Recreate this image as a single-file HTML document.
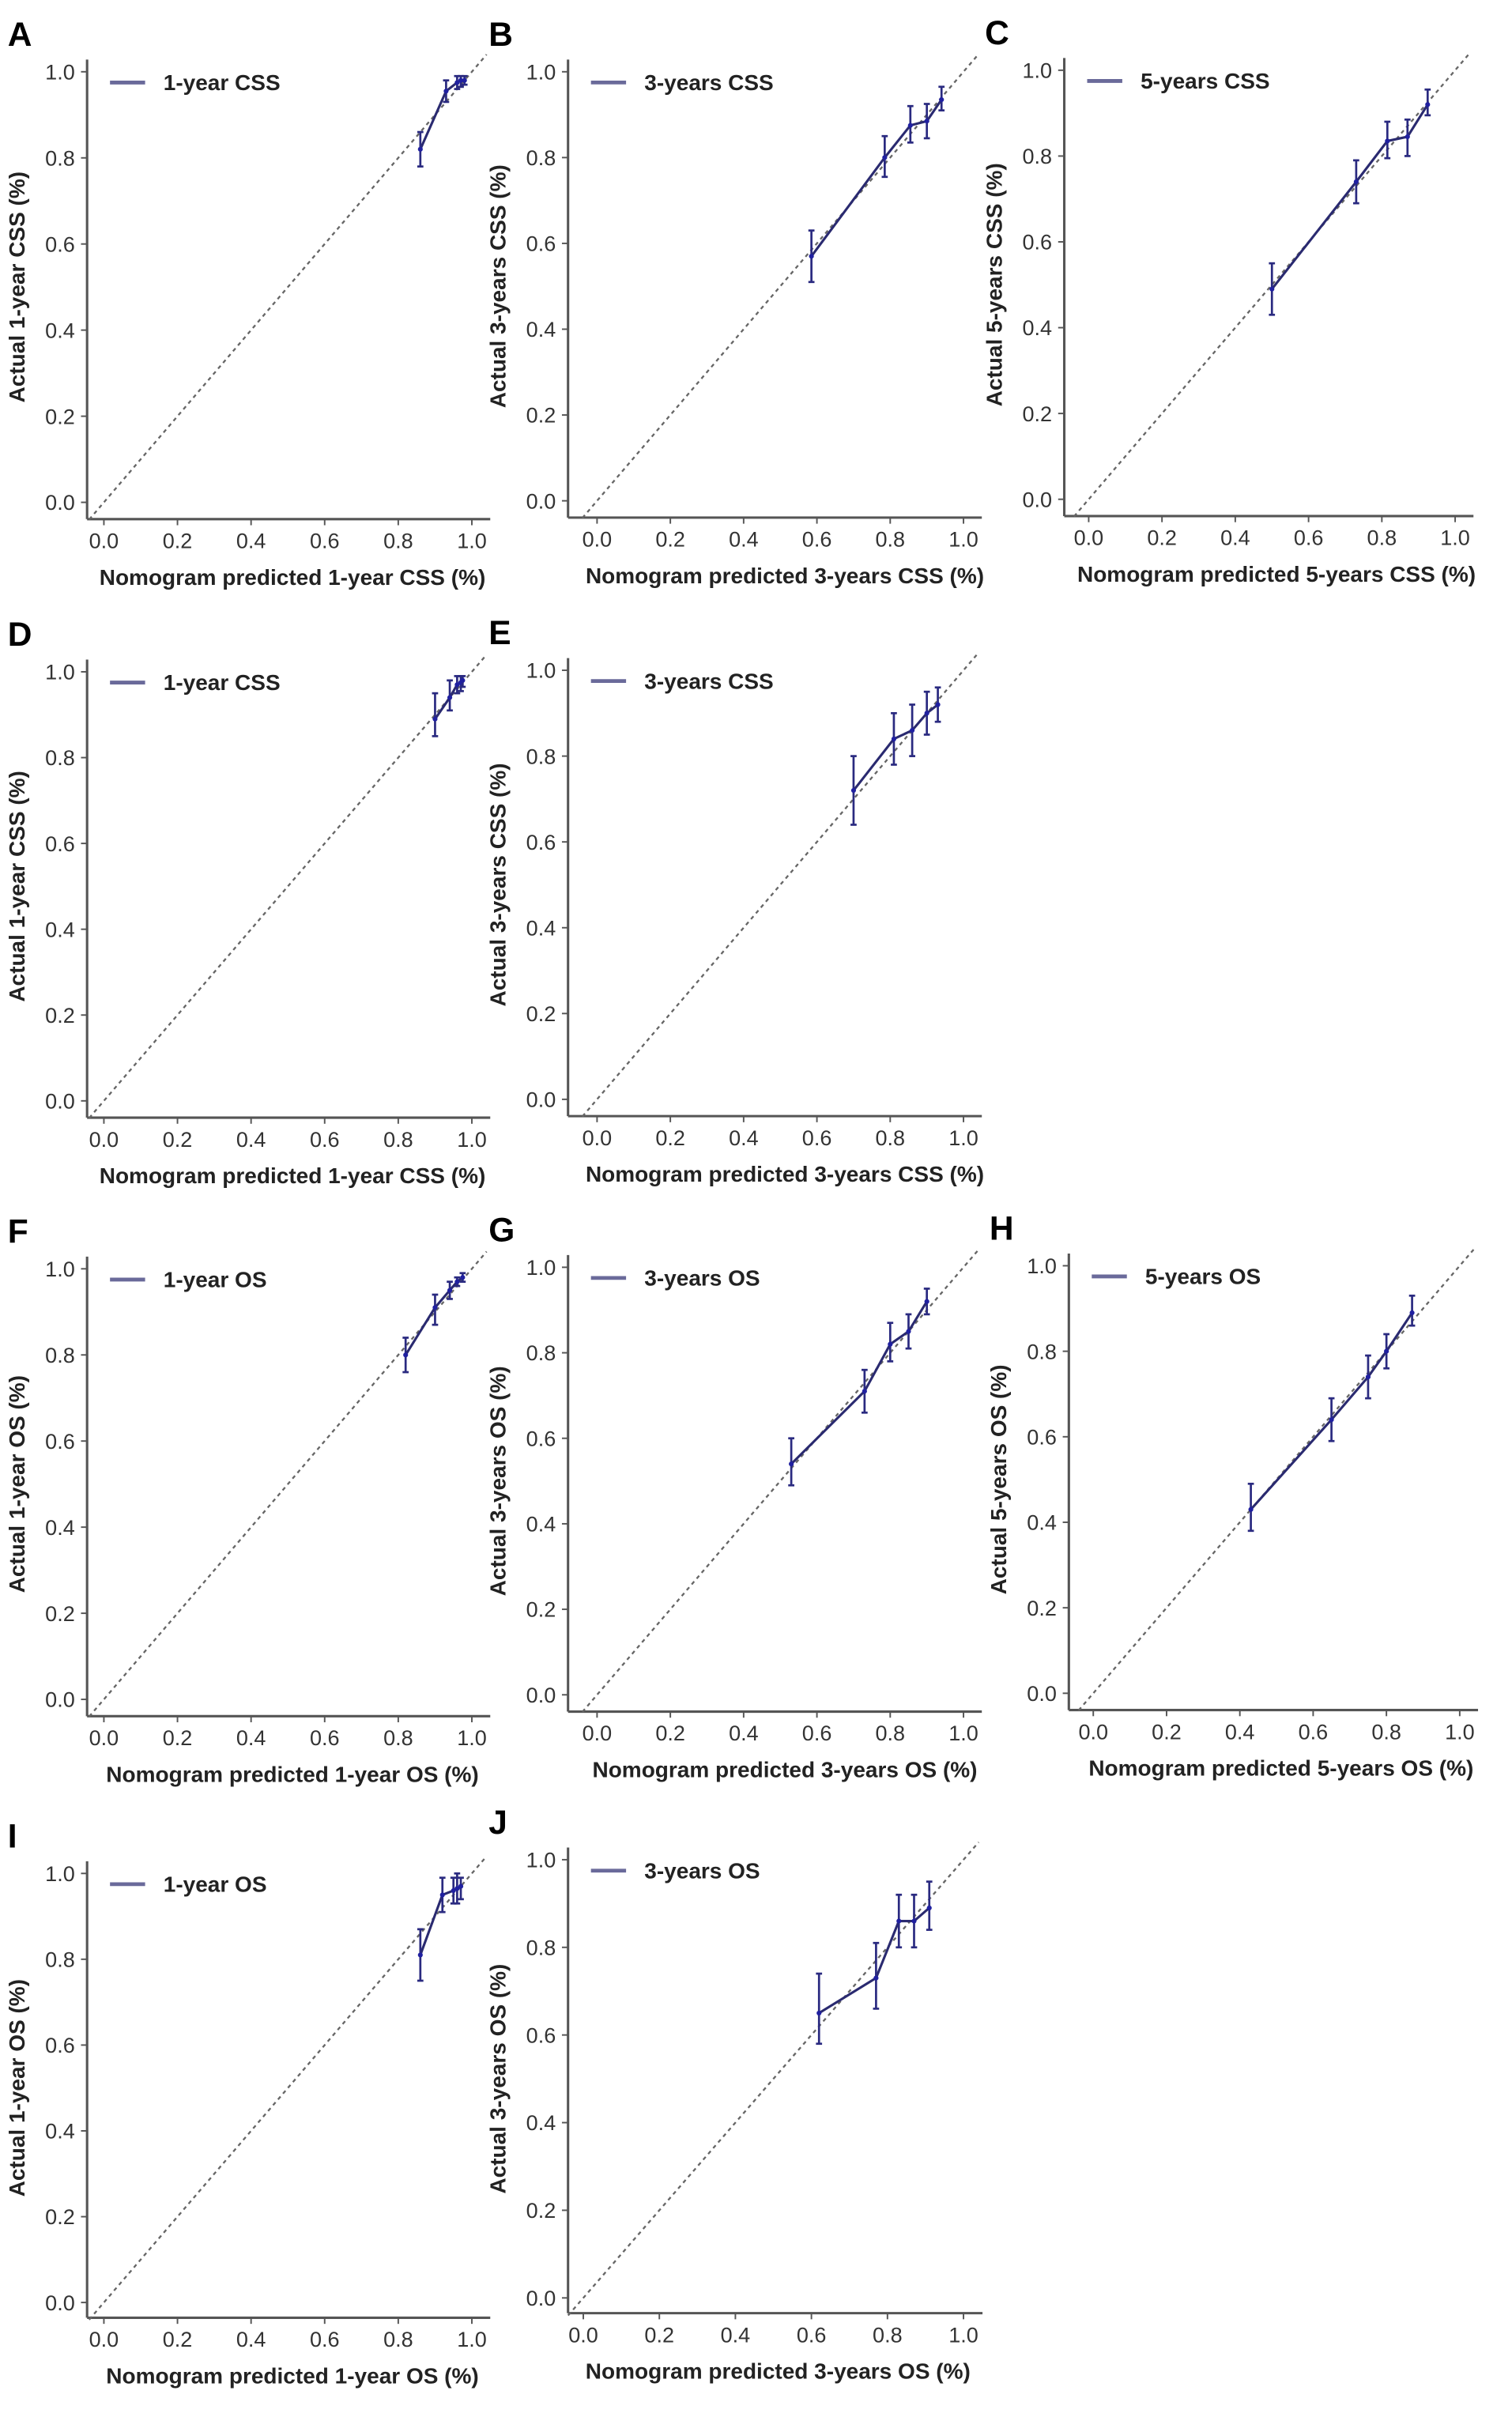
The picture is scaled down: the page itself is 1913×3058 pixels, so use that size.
<!DOCTYPE html>
<html><head><meta charset="utf-8"><style>
html,body{margin:0;padding:0;background:#fff}
svg{display:block}
text{font-family:"Liberation Sans",Arial,sans-serif}
</style></head><body>
<svg id="fig" width="1913" height="3058" viewBox="0 0 990.2 1583" xmlns="http://www.w3.org/2000/svg"></svg>
<script>
// Panel data: predicted, observed, lower CI, upper CI
const predA=[0.86,0.93,0.96,0.97,0.98], obsA=[0.82,0.955,0.975,0.98,0.98], loA=[0.78,0.93,0.96,0.965,0.97], hiA=[0.86,0.98,0.99,0.99,0.99];
const predB=[0.585,0.785,0.855,0.90,0.94], obsB=[0.57,0.80,0.875,0.885,0.935], loB=[0.51,0.755,0.835,0.845,0.91], hiB=[0.63,0.85,0.92,0.925,0.965];
const predC=[0.50,0.73,0.815,0.87,0.925], obsC=[0.49,0.74,0.835,0.845,0.92], loC=[0.43,0.69,0.795,0.80,0.895], hiC=[0.55,0.79,0.88,0.885,0.955];
const predD=[0.90,0.94,0.96,0.97,0.975], obsD=[0.89,0.94,0.97,0.975,0.98], loD=[0.85,0.91,0.95,0.955,0.965], hiD=[0.95,0.98,0.99,0.99,0.99];
const predE=[0.70,0.81,0.86,0.90,0.93], obsE=[0.72,0.84,0.86,0.90,0.92], loE=[0.64,0.78,0.80,0.85,0.88], hiE=[0.80,0.90,0.92,0.95,0.96];
const predF=[0.82,0.90,0.94,0.96,0.975], obsF=[0.80,0.91,0.95,0.97,0.98], loF=[0.76,0.87,0.93,0.96,0.97], hiF=[0.84,0.94,0.97,0.98,0.99];
const predG=[0.53,0.73,0.80,0.85,0.90], obsG=[0.54,0.71,0.82,0.85,0.92], loG=[0.49,0.66,0.78,0.81,0.89], hiG=[0.60,0.76,0.87,0.89,0.95];
const predH=[0.43,0.65,0.75,0.80,0.87], obsH=[0.43,0.64,0.74,0.80,0.89], loH=[0.38,0.59,0.69,0.76,0.86], hiH=[0.49,0.69,0.79,0.84,0.93];
const predI=[0.86,0.92,0.95,0.96,0.97], obsI=[0.81,0.95,0.96,0.965,0.97], loI=[0.75,0.91,0.93,0.93,0.94], hiI=[0.87,0.99,0.99,1.0,0.99];
const predJ=[0.62,0.77,0.83,0.87,0.91], obsJ=[0.65,0.73,0.86,0.86,0.89], loJ=[0.58,0.66,0.80,0.80,0.84], hiJ=[0.74,0.81,0.92,0.92,0.95];
const tickVals=[0,0.2,0.4,0.6,0.8,1.0];
const tickLabels=["0.0","0.2","0.4","0.6","0.8","1.0"];

const panels=[
 {L:"A",ax:57,x0:68,x1:309,y1:47,y0:329,ay:340,leg:"1-year CSS",xt:"Nomogram predicted 1-year CSS (%)",yt:"Actual 1-year CSS (%)",p:predA,o:obsA,lo:loA,hi:hiA},
 {L:"B",ax:372,x0:391,x1:631,y1:47,y0:328,ay:339,leg:"3-years CSS",xt:"Nomogram predicted 3-years CSS (%)",yt:"Actual 3-years CSS (%)",p:predB,o:obsB,lo:loB,hi:hiB},
 {L:"C",ax:697,x0:713,x1:953,y1:46,y0:327,ay:338,leg:"5-years CSS",xt:"Nomogram predicted 5-years CSS (%)",yt:"Actual 5-years CSS (%)",p:predC,o:obsC,lo:loC,hi:hiC},
 {L:"D",ax:57,x0:68,x1:309,y1:440,y0:721,ay:732,leg:"1-year CSS",xt:"Nomogram predicted 1-year CSS (%)",yt:"Actual 1-year CSS (%)",p:predD,o:obsD,lo:loD,hi:hiD},
 {L:"E",ax:372,x0:391,x1:631,y1:439,y0:720,ay:731,leg:"3-years CSS",xt:"Nomogram predicted 3-years CSS (%)",yt:"Actual 3-years CSS (%)",p:predE,o:obsE,lo:loE,hi:hiE},
 {L:"F",ax:57,x0:68,x1:309,y1:831,y0:1113,ay:1124,leg:"1-year OS",xt:"Nomogram predicted 1-year OS (%)",yt:"Actual 1-year OS (%)",p:predF,o:obsF,lo:loF,hi:hiF},
 {L:"G",ax:372,x0:391,x1:631,y1:830,y0:1110,ay:1121,leg:"3-years OS",xt:"Nomogram predicted 3-years OS (%)",yt:"Actual 3-years OS (%)",p:predG,o:obsG,lo:loG,hi:hiG},
 {L:"H",ax:700,x0:716,x1:956,y1:829,y0:1109,ay:1120,leg:"5-years OS",xt:"Nomogram predicted 5-years OS (%)",yt:"Actual 5-years OS (%)",p:predH,o:obsH,lo:loH,hi:hiH},
 {L:"I",ax:57,x0:68,x1:309,y1:1227,y0:1508,ay:1518,leg:"1-year OS",xt:"Nomogram predicted 1-year OS (%)",yt:"Actual 1-year OS (%)",p:predI,o:obsI,lo:loI,hi:hiI},
 {L:"J",ax:372,x0:382,x1:631,y1:1218,y0:1505,ay:1515,leg:"3-years OS",xt:"Nomogram predicted 3-years OS (%)",yt:"Actual 3-years OS (%)",p:predJ,o:obsJ,lo:loJ,hi:hiJ}
];
const NS="http://www.w3.org/2000/svg";
const svg=document.getElementById('fig');
function mk(parent,tag,attrs,txt){const e=document.createElementNS(NS,tag);for(const k in attrs)e.setAttribute(k,attrs[k]);if(txt!==undefined)e.textContent=txt;parent.appendChild(e);return e;}
panels.forEach(P=>{
 const g=mk(svg,'g',{});
 
 
 const sx=v=>P.x0+(P.x1-P.x0)*v, sy=v=>P.y0-(P.y0-P.y1)*v;
 const lt=mk(g,'text',{x:P.ax-52,y:P.y1-17,'font-size':22,'font-weight':'bold',fill:'#000'},P.L);
 
 
 const ya=mk(g,'line',{x1:P.ax,y1:P.y1-8,x2:P.ax,y2:P.ay,stroke:'#555','stroke-width':1.6});
 
 
 const xa=mk(g,'line',{x1:P.ax,y1:P.ay,x2:sx(1.05),y2:P.ay,stroke:'#555','stroke-width':1.6});
 
 
 tickVals.forEach((v,i)=>{
  mk(g,'line',{x1:P.ax-4,y1:sy(v),x2:P.ax,y2:sy(v),stroke:'#555','stroke-width':1});
  mk(g,'line',{x1:sx(v),y1:P.ay,x2:sx(v),y2:P.ay+4,stroke:'#555','stroke-width':1});
  const yl=mk(g,'text',{x:P.ax-8,y:sy(v)+5,'font-size':14,'text-anchor':'end',fill:'#333'},tickLabels[i]);
  
  
  const xl=mk(g,'text',{x:sx(v),y:P.ay+19,'font-size':14,'text-anchor':'middle',fill:'#333'},tickLabels[i]);
  
  
 });
 const xt=mk(g,'text',{x:(sx(0)+sx(1))/2+3,y:P.ay+43,'font-size':14.5,'font-weight':'bold','text-anchor':'middle',fill:'#222'},P.xt);
 
 
 const ytx=P.ax-41, yty=(P.y0+P.y1)/2;
 const yt=mk(g,'text',{x:ytx,y:yty,'font-size':14.5,'font-weight':'bold','text-anchor':'middle',fill:'#222',transform:`rotate(-90 ${ytx} ${yty})`},P.yt);
 
 
 const d=mk(g,'line',{x1:sx(-0.04),y1:sy(-0.04),x2:sx(1.04),y2:sy(1.04),stroke:'#666','stroke-width':1.2,'stroke-dasharray':'2.5,2.5'});
 
 
 const lg=mk(g,'g',{});
 
 
 const ly=sy(0.975);
 mk(lg,'line',{x1:P.ax+15,y1:ly,x2:P.ax+38,y2:ly,stroke:'#6a6a9a','stroke-width':2.5});
 mk(lg,'text',{x:P.ax+50,y:ly+5,'font-size':14.5,'font-weight':'bold',fill:'#222'},P.leg);
 const pts=P.p.map((v,i)=>sx(v)+','+sy(P.o[i])).join(' ');
 const pl=mk(g,'polyline',{points:pts,fill:'none',stroke:'#2a2a70','stroke-width':1.6});
 
 
 P.p.forEach((v,i)=>{
  const x=sx(v);
  const eb=mk(g,'g',{stroke:'#2a2a80','stroke-width':1.4});
  
  
  mk(eb,'line',{x1:x,y1:sy(P.lo[i]),x2:x,y2:sy(P.hi[i])});
  mk(eb,'line',{x1:x-2,y1:sy(P.lo[i]),x2:x+2,y2:sy(P.lo[i])});
  mk(eb,'line',{x1:x-2,y1:sy(P.hi[i]),x2:x+2,y2:sy(P.hi[i])});
  const c=mk(g,'circle',{cx:x,cy:sy(P.o[i]),r:1.6,fill:'#2020a0'});
  
  
 });
});
</script>
</body></html>
